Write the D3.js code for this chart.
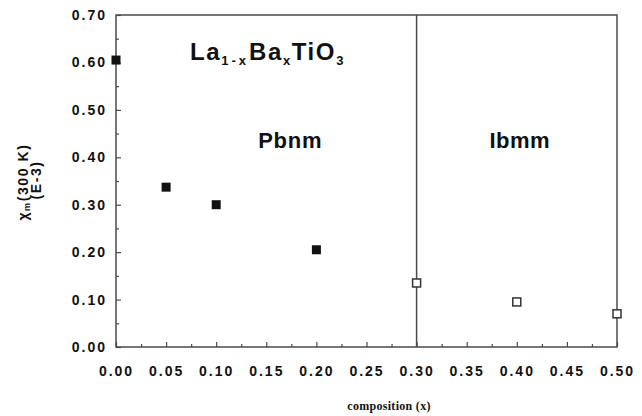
<!DOCTYPE html>
<html>
<head>
<meta charset="utf-8">
<script src="https://cdn.jsdelivr.net/npm/d3@7/dist/d3.min.js"></script>
<style>
  html, body { margin: 0; padding: 0; background: #fff; }
  svg { display: block; }
  .tick text { font-family: "Liberation Sans", Arial, sans-serif; font-weight: bold; font-size: 14px; letter-spacing: 2px; fill: #111; }
</style>
</head>
<body>
<svg id="chart" width="642" height="416"></svg>
<script>
// Magnetic susceptibility of La(1-x)Ba(x)TiO3 at 300 K versus composition
const pbnmX   = [0.00, 0.05, 0.10, 0.20];
const pbnmChi = [0.605, 0.337, 0.300, 0.205];
const ibmmX   = [0.30, 0.40, 0.50];
const ibmmChi = [0.135, 0.095, 0.070];

const xTicks      = [0.00, 0.05, 0.10, 0.15, 0.20, 0.25, 0.30, 0.35, 0.40, 0.45, 0.50];
const xMinorTicks = [0.025, 0.075, 0.125, 0.175, 0.225, 0.275, 0.325, 0.375, 0.425, 0.475];
const yTicks      = [0.00, 0.10, 0.20, 0.30, 0.40, 0.50, 0.60, 0.70];
const yMinorTicks = [0.05, 0.15, 0.25, 0.35, 0.45, 0.55, 0.65];
const phaseBoundary = 0.30;

const svg = d3.select("#chart");
const W = 642, H = 416;
const m = { left: 116, right: 25, top: 15, bottom: 69 };

const x = d3.scaleLinear().domain([0, 0.5]).range([m.left, W - m.right]);
const y = d3.scaleLinear().domain([0, 0.7]).range([H - m.bottom, m.top]);

const lineColor = "#4a4a4a";
const sans = "'Liberation Sans', Arial, sans-serif";

// plot frame
svg.append("rect")
  .attr("x", x(0)).attr("y", y(0.7))
  .attr("width", x(0.5) - x(0)).attr("height", y(0) - y(0.7))
  .attr("fill", "none").attr("stroke", lineColor).attr("stroke-width", 1.5);

// phase boundary between Pbnm and Ibmm
svg.append("line")
  .attr("x1", x(phaseBoundary)).attr("x2", x(phaseBoundary))
  .attr("y1", y(0.7)).attr("y2", y(0))
  .attr("stroke", lineColor).attr("stroke-width", 1.5);

function styleAxis(g) {
  g.select(".domain").remove();
  g.selectAll(".tick line").attr("stroke", lineColor).attr("stroke-width", 1.2);
}

// x axis: major and minor inward ticks
svg.append("g")
  .attr("transform", `translate(0,${y(0)})`)
  .call(d3.axisBottom(x).tickValues(xTicks).tickSize(-5).tickPadding(19).tickFormat(d3.format(".2f")))
  .call(styleAxis);
svg.append("g")
  .attr("transform", `translate(0,${y(0)})`)
  .call(d3.axisBottom(x).tickValues(xMinorTicks).tickSize(-3).tickFormat(""))
  .call(styleAxis);

// y axis: major and minor inward ticks
svg.append("g")
  .attr("transform", `translate(${x(0)},0)`)
  .call(d3.axisLeft(y).tickValues(yTicks).tickSize(-5).tickPadding(9).tickFormat(d3.format(".2f")))
  .call(styleAxis);
svg.append("g")
  .attr("transform", `translate(${x(0)},0)`)
  .call(d3.axisLeft(y).tickValues(yMinorTicks).tickSize(-3).tickFormat(""))
  .call(styleAxis);

// Pbnm data: filled squares
const sq = 9;
svg.append("g").selectAll("rect")
  .data(pbnmX.map((v, i) => [v, pbnmChi[i]]))
  .join("rect")
  .attr("x", d => x(d[0]) - sq / 2).attr("y", d => y(d[1]) - sq / 2)
  .attr("width", sq).attr("height", sq)
  .attr("fill", "#111");

// Ibmm data: open squares
const osq = 8;
svg.append("g").selectAll("rect")
  .data(ibmmX.map((v, i) => [v, ibmmChi[i]]))
  .join("rect")
  .attr("x", d => x(d[0]) - osq / 2).attr("y", d => y(d[1]) - osq / 2)
  .attr("width", osq).attr("height", osq)
  .attr("fill", "#fff").attr("stroke", "#333").attr("stroke-width", 1.5);

// compound formula
const title = svg.append("text")
  .attr("x", 190).attr("y", 60)
  .attr("font-family", sans).attr("font-weight", "bold")
  .attr("font-size", 24).attr("letter-spacing", 1.6).attr("fill", "#111");
title.append("tspan").text("La");
title.append("tspan").attr("font-size", 13).attr("dy", 5).attr("letter-spacing", 3).text("1-x");
title.append("tspan").attr("dy", -5).text("Ba");
title.append("tspan").attr("font-size", 13).attr("dy", 5).text("x");
title.append("tspan").attr("dy", -5).text("TiO");
title.append("tspan").attr("font-size", 13).attr("dy", 5).text("3");

// phase labels
svg.append("text")
  .attr("x", (x(0) + x(phaseBoundary)) / 2 + 24).attr("y", 148)
  .attr("text-anchor", "middle")
  .attr("font-family", sans).attr("font-weight", "bold")
  .attr("font-size", 22).attr("letter-spacing", 0.8).attr("fill", "#111")
  .text("Pbnm");
svg.append("text")
  .attr("x", (x(phaseBoundary) + x(0.5)) / 2 + 3).attr("y", 148)
  .attr("text-anchor", "middle")
  .attr("font-family", sans).attr("font-weight", "bold")
  .attr("font-size", 22).attr("letter-spacing", 0.5).attr("fill", "#111")
  .text("Ibmm");

// x axis title
svg.append("text")
  .attr("x", 389).attr("y", 410)
  .attr("text-anchor", "middle")
  .attr("font-family", "'Liberation Serif', 'Times New Roman', serif")
  .attr("font-weight", "bold").attr("font-size", 12).attr("letter-spacing", 0.3)
  .attr("fill", "#111")
  .text("composition (x)");

// y axis title (two lines, rotated)
const yl = svg.append("text")
  .attr("transform", "translate(28,182) rotate(-90)")
  .attr("text-anchor", "middle")
  .attr("font-family", sans).attr("font-weight", "bold")
  .attr("font-size", 14).attr("letter-spacing", 1.6).attr("fill", "#111");
yl.append("tspan").text("χ");
yl.append("tspan").attr("font-size", 9).attr("dy", 2).text("m");
yl.append("tspan").attr("dy", -2).text("(300 K)");

svg.append("text")
  .attr("transform", "translate(41,180) rotate(-90)")
  .attr("text-anchor", "middle")
  .attr("font-family", sans).attr("font-weight", "bold")
  .attr("font-size", 14).attr("letter-spacing", 1.6).attr("fill", "#111")
  .text("(E-3)");
</script>
</body>
</html>
